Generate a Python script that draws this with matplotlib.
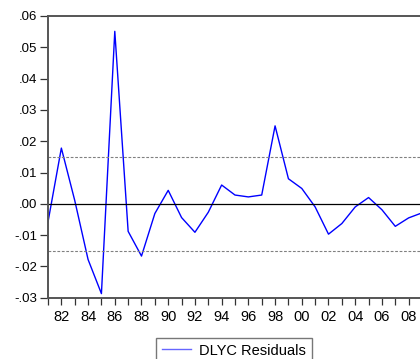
import matplotlib
matplotlib.use("Agg")
import matplotlib.pyplot as plt
import numpy as np

plt.rcParams['font.family'] = ['Liberation Sans', 'DejaVu Sans']

# residual series, 1981-2009
years = list(range(1981, 2010))
residuals = [-0.0058, 0.0178, 0.0011, -0.0178, -0.0287, 0.0551, -0.0088, -0.0167,
             -0.0031, 0.0043, -0.0044, -0.0091, -0.0027, 0.0060, 0.0028, 0.0022,
             0.0028, 0.0249, 0.0080, 0.0049, -0.0010, -0.0097, -0.0063, -0.0010,
             0.0020, -0.0019, -0.0072, -0.0045, -0.0029]
band = 0.015
y_ticks = [-0.03, -0.02, -0.01, 0.0, 0.01, 0.02, 0.03, 0.04, 0.05, 0.06]
y_labels = ['-.03', '-.02', '-.01', '.00', '.01', '.02', '.03', '.04', '.05', '.06']
x_label_years = list(range(1982, 2010, 2))

W, H = 420, 359
fig = plt.figure(figsize=(W / 100, H / 100), dpi=100)
ax = fig.add_axes([48 / W, 1 - 297.7 / H, (422 - 48) / W, (297.7 - 16) / H])

ax.plot(years, residuals, color='#0000ff', lw=1.0, label='DLYC Residuals')
ax.axhline(0, color='black', lw=0.9)
ax.axhline(band, color='#808080', lw=0.8, ls=(0, (2.5, 1.5)))
ax.axhline(-band, color='#808080', lw=0.8, ls=(0, (2.5, 1.5)))

ax.set_xlim(1981, 2009)
ax.set_ylim(-0.03, 0.06)
ax.set_yticks(y_ticks)
ax.set_yticklabels(y_labels, fontsize=9.5)
ax.set_xticks(years)
ax.set_xticklabels([f"{y % 100:02d}" if y in x_label_years else '' for y in years],
                   fontsize=10.5)
ax.tick_params(axis='y', direction='out', length=6, width=0.9, pad=2, colors='#333333', labelcolor='black')
ax.tick_params(axis='x', direction='out', length=5, width=0.9, pad=4, colors='#333333', labelcolor='black')

for side in ['top', 'left', 'bottom', 'right']:
    ax.spines[side].set_color('#555555')
    ax.spines[side].set_linewidth(1.4)

leg = fig.legend(loc='upper left', bbox_to_anchor=(155.7 / W, 1 - 337.7 / H),
                 frameon=True, fancybox=False, edgecolor='#555555', fontsize=10.5,
                 handlelength=2.0, handletextpad=0.6, borderaxespad=0, borderpad=0.4)
leg.get_frame().set_linewidth(1.0)
leg.get_lines()[0].set_color('#6666ff')

fig.savefig('out.png', dpi=100)
